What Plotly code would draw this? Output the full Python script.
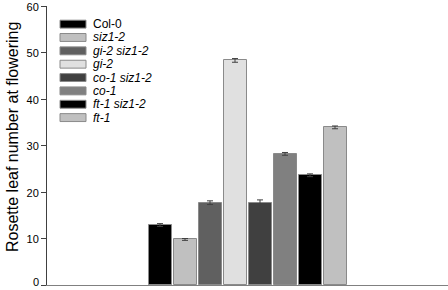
import plotly.graph_objects as go

genotypes = ["Col-0", "siz1-2", "gi-2 siz1-2", "gi-2", "co-1 siz1-2", "co-1", "ft-1 siz1-2", "ft-1"]
leaf_numbers = [12.9, 9.8, 17.7, 48.3, 17.7, 28.2, 23.6, 33.9]
errors = [0.3, 0.2, 0.4, 0.4, 0.6, 0.3, 0.3, 0.3]
colors = ["#000000", "#c0c0c0", "#606060", "#e0e0e0", "#404040", "#808080", "#000000", "#c0c0c0"]
italic = [False, True, True, True, True, True, True, True]
y_ticks = [0, 10, 20, 30, 40, 50, 60]
y_tick_labels = ["0", "10", "20", "30", "40", "50", "60"]
y_title = "Rosette leaf number at flowering"

FONT = "Liberation Sans, Arial, sans-serif"

fig = go.Figure()
for i, (g, v, e, c) in enumerate(zip(genotypes, leaf_numbers, errors, colors)):
    fig.add_trace(go.Bar(
        x=[i], y=[v], width=0.92, name=g, marker_color=c,
        marker_line=dict(color="#8a8a8a", width=1),
        error_y=dict(type="data", array=[e], visible=True, color="#404040", thickness=1, width=3),
        showlegend=False,
    ))

# manual legend (swatches + labels)
row_top = 56.1
row_step = 13.4 / 4.667
for i, (g, c, it) in enumerate(zip(genotypes, colors, italic)):
    yc = row_top - i * row_step
    fig.add_shape(type="rect", xref="x", yref="y",
                  x0=-4.0, x1=-2.96, y0=yc - 0.85, y1=yc + 0.85,
                  fillcolor=c, line=dict(color="#8a8a8a", width=1))
    fig.add_annotation(xref="x", yref="y", x=-2.76, y=yc, xanchor="left", yanchor="middle",
                       text=f"<i>{g}</i>" if it else g, showarrow=False,
                       font=dict(family=FONT, size=12, color="#000000"))

# y-axis title
fig.add_annotation(xref="paper", yref="paper", x=(12 - 47) / 401, y=(285 - 137) / 279,
                   xanchor="center", yanchor="middle", textangle=-90, showarrow=False,
                   text=y_title, font=dict(family=FONT, size=16, color="#000000"))

# bottom tick label placed slightly up so it stays inside the page
fig.add_annotation(xref="paper", yref="y", x=-7 / 401, y=y_ticks[0], xanchor="right",
                   yanchor="middle", yshift=3, showarrow=False, borderpad=0,
                   text=y_tick_labels[0], font=dict(family=FONT, size=11, color="#000000"))

fig.update_layout(
    width=448, height=290,
    margin=dict(l=47, r=0, t=6, b=5, autoexpand=False),
    paper_bgcolor="white", plot_bgcolor="white",
    font=dict(family=FONT, size=12, color="#000000"),
    bargap=0,
    xaxis=dict(range=[-4.52, 11.52], showticklabels=False, ticks="", showgrid=False,
               zeroline=False, showline=True, linecolor="#808080", linewidth=1),
    yaxis=dict(range=[0, 60], tickvals=y_ticks, ticktext=[""] + y_tick_labels[1:],
               ticks="outside", ticklen=5, tickcolor="#404040",
               showgrid=False, zeroline=False, showline=True, linecolor="#404040", linewidth=1,
               tickfont=dict(size=11, family=FONT), automargin=False, ticklabeloverflow="allow",
               ticklabelshift=1),
)

fig.write_html("out.html", config={"displayModeBar": False},
               post_script="document.body.style.margin='0';document.body.style.overflow='hidden';")
